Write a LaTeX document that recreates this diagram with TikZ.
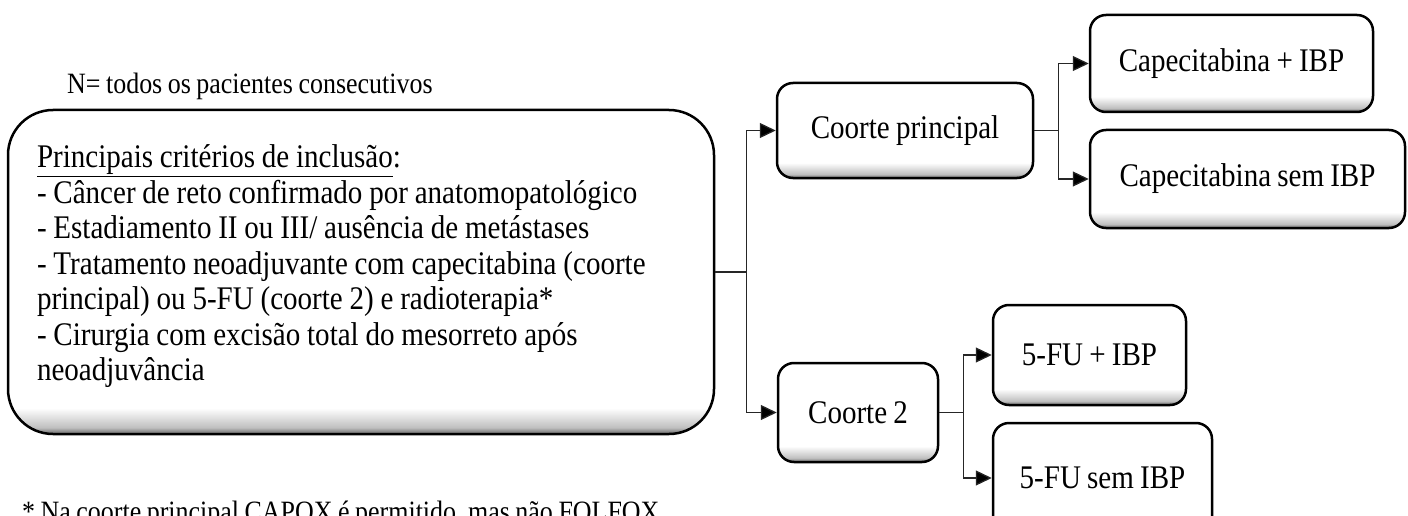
\documentclass[tikz,border=0pt]{standalone}
\usepackage{fontspec}
\setmainfont{Liberation Serif}[FakeStretch=0.88,WordSpace=0.85]
\usetikzlibrary{arrows.meta}
\pgfdeclareverticalshading{bevelsmall}{100bp}{color(0bp)=(black!60); color(25bp)=(black!60); color(27bp)=(black!25); color(33bp)=(white); color(100bp)=(white)}
\pgfdeclareverticalshading{bevelbig}{100bp}{color(0bp)=(black!60); color(25bp)=(black!60); color(26bp)=(black!25); color(29bp)=(white); color(100bp)=(white)}
\begin{document}
\begin{tikzpicture}[x=1pt,y=-1pt,
  box/.style={draw=black, line width=2.5pt, rounded corners=16pt, shade, shading=bevelsmall, align=center, inner sep=4pt, font=\fontsize{33}{35.5}\selectfont},
  bigbox/.style={box, rounded corners=45pt, shading=bevelbig, align=left},
  conn/.style={line width=1.3pt, draw=black!85},
  arr/.style={conn, -{Triangle[length=16pt,width=15pt,fill=black]}},
  lbl/.style={font=\fontsize{29.5}{32}\selectfont, anchor=base west, inner sep=0pt}
]
\useasboundingbox (0,0) rectangle (1408,516);

\node[lbl] (n) at (67,94) {N= todos os pacientes consecutivos};

\node[bigbox, minimum width=706pt, minimum height=324pt, text width=648pt, inner xsep=29pt] (main) at (361,272)
 {\spaceskip=1.1\fontdimen2\font\relax
 \underline{Principais critérios de inclusão}:\\
 - Câncer de reto confirmado por anatomopatológico\\
 - Estadiamento II ou III/ ausência de metástases\\
 - Tratamento neoadjuvante com capecitabina (coorte\\
 principal) ou 5-FU (coorte 2) e radioterapia*\\
 - Cirurgia com excisão total do mesorreto após\\
 neoadjuvância\rule[-18pt]{0pt}{1pt}};

\node[box, minimum width=256pt, minimum height=95pt] (cp) at (905,130.5) {Coorte principal};
\node[box, minimum width=283pt, minimum height=97pt] (cap1) at (1231.5,63.5) {Capecitabina + IBP};
\node[box, minimum width=315pt, minimum height=98pt] (cap2) at (1247.5,179) {Capecitabina sem IBP};
\node[box, minimum width=160pt, minimum height=99pt] (c2) at (858,412.5) {Coorte 2};
\node[box, minimum width=193pt, minimum height=100pt] (fu1) at (1089.5,355) {5-FU + IBP};
\node[box, minimum width=219pt, minimum height=110pt] (fu2) at (1102.5,478) {5-FU sem IBP};

\draw[conn] (main.east) -- ++(31,0) coordinate (b1);
\draw[arr] (b1) |- (cp.west);
\draw[arr] (b1) |- (c2.west);
\draw[conn] (cp.east) -- ++(24,0) coordinate (b2);
\draw[arr] (b2) |- (cap1.west);
\draw[arr] (b2) |- (cap2.west);
\draw[conn] (c2.east) -- ++(24,0) coordinate (b3);
\draw[arr] (b3) |- (fu1.west);
\draw[arr] (b3) |- (fu2.west);

\node[lbl] (fn) at (22,521) {* Na coorte principal CAPOX é permitido, mas não FOLFOX};
\end{tikzpicture}
\end{document}
